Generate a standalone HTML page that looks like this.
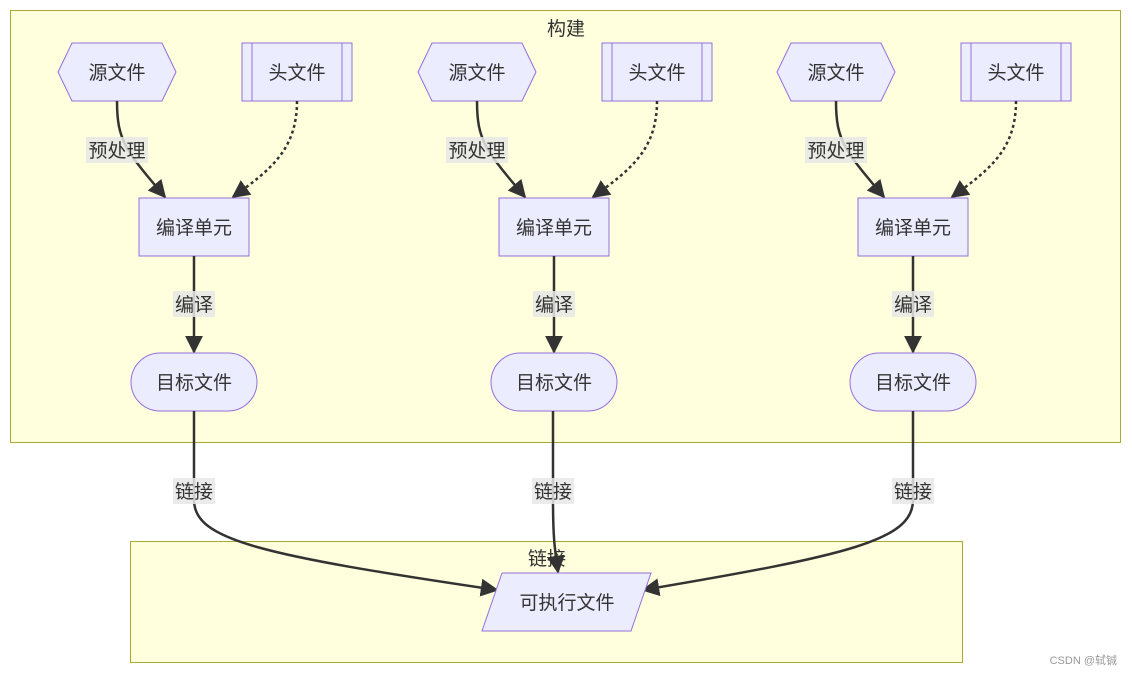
<!DOCTYPE html>
<html><head><meta charset="utf-8"><style>
html,body{margin:0;padding:0;background:#fff;width:1132px;height:675px;overflow:hidden}
svg{display:block;font-family:"Liberation Sans","Noto Sans CJK SC",sans-serif}
</style></head><body>
<svg width="1132" height="675" viewBox="0 0 1132 675">
<defs>
<marker id="a" viewBox="0 0 10 10" refX="9" refY="5" markerWidth="7" markerHeight="7" orient="auto" markerUnits="userSpaceOnUse"><path d="M0,0L10,5L0,10z" fill="#333"/></marker>
<marker id="b" viewBox="0 0 10 10" refX="9" refY="5" markerWidth="18" markerHeight="18" orient="auto" markerUnits="userSpaceOnUse"><path d="M0,0L10,5L0,10z" fill="#333"/></marker>
<g id="col">
<path d="M58,72L72,43L162,43L176,72L162,101L72,101Z" fill="#ececff" stroke="#9370db"/>
<text x="117" y="79" text-anchor="middle" font-size="19" fill="#333">源文件</text>
<rect x="242" y="43" width="110" height="58" fill="#ececff" stroke="#9370db"/>
<line x1="252" y1="43" x2="252" y2="101" stroke="#9370db"/>
<line x1="342" y1="43" x2="342" y2="101" stroke="#9370db"/>
<text x="297" y="79" text-anchor="middle" font-size="19" fill="#333">头文件</text>
<path d="M117,101C117,140 125,150 165,197" fill="none" stroke="#333" stroke-width="2.5" marker-end="url(#b)"/>
<rect x="86" y="137" width="62" height="26" fill="#e8e8e8" opacity="0.85"/>
<text x="117" y="157" text-anchor="middle" font-size="19" fill="#333">预处理</text>
<path d="M297,101C297,150 270,170 233,197" fill="none" stroke="#333" stroke-width="2.5" stroke-dasharray="3,3" marker-end="url(#b)"/>
<rect x="139" y="198" width="110" height="58" fill="#ececff" stroke="#9370db"/>
<text x="194" y="234" text-anchor="middle" font-size="19" fill="#333">编译单元</text>
<line x1="194" y1="256" x2="194" y2="352" stroke="#333" stroke-width="2.5" marker-end="url(#b)"/>
<rect x="173" y="291" width="42" height="26" fill="#e8e8e8" opacity="0.85"/>
<text x="194" y="311" text-anchor="middle" font-size="19" fill="#333">编译</text>
<rect x="131" y="353" width="126" height="58" rx="29" fill="#ececff" stroke="#9370db"/>
<text x="194" y="389" text-anchor="middle" font-size="19" fill="#333">目标文件</text>
</g>
</defs>
<rect x="10.5" y="10.5" width="1110" height="432" fill="#ffffde" stroke="#aaaa33"/>
<text x="566" y="35" text-anchor="middle" font-size="19" fill="#333">构建</text>
<rect x="130.5" y="541.5" width="832" height="121" fill="#ffffde" stroke="#aaaa33"/>
<use href="#col"/>
<use href="#col" x="360"/>
<use href="#col" x="719"/>
<path d="M194,411L194,500C194,540 260,555 497,590" fill="none" stroke="#333" stroke-width="2.5" marker-end="url(#b)"/>
<path d="M553,411L553,500C553,540 555,550 558,572" fill="none" stroke="#333" stroke-width="2.5" marker-end="url(#b)"/>
<path d="M913,411L913,500C913,540 850,555 643,590" fill="none" stroke="#333" stroke-width="2.5" marker-end="url(#b)"/>
<text x="547" y="565" text-anchor="middle" font-size="19" fill="#333">链接</text>
<rect x="173" y="478" width="42" height="26" fill="#e8e8e8" opacity="0.85"/>
<text x="194" y="498" text-anchor="middle" font-size="19" fill="#333">链接</text>
<rect x="532" y="478" width="42" height="26" fill="#e8e8e8" opacity="0.85"/>
<text x="553" y="498" text-anchor="middle" font-size="19" fill="#333">链接</text>
<rect x="892" y="478" width="42" height="26" fill="#e8e8e8" opacity="0.85"/>
<text x="913" y="498" text-anchor="middle" font-size="19" fill="#333">链接</text>
<path d="M502,573L651,573L631,631L482,631Z" fill="#ececff" stroke="#9370db"/>
<text x="567" y="609" text-anchor="middle" font-size="19" fill="#333">可执行文件</text>
<text x="1117" y="664" text-anchor="end" font-size="11" fill="#999">CSDN @轼铖</text>
</svg>
</body></html>
